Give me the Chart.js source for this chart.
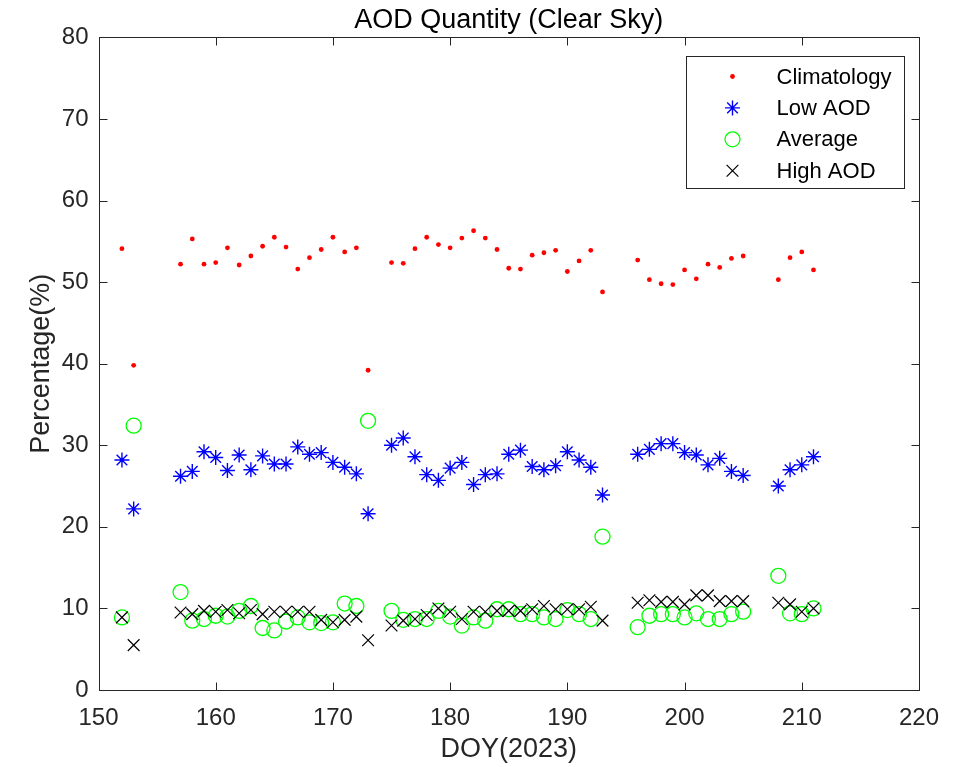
<!DOCTYPE html>
<html>
<head>
<meta charset="utf-8">
<script src="https://cdn.jsdelivr.net/npm/chart.js@4.4.1/dist/chart.umd.min.js"></script>
<style>
    html, body { margin: 0; padding: 0; background: #fff; }
</style>
</head>
<body>
<canvas id="aodChart" width="953" height="767"></canvas>
<script>
// Datos
const doy = [
    152, 153, 157, 158, 159, 160, 161, 162, 163, 164, 165, 166, 167, 168, 169,
    170, 171, 172, 173, 175, 176, 177, 178, 179, 180, 181, 182, 183, 184, 185,
    186, 187, 188, 189, 190, 191, 192, 193, 196, 197, 198, 199, 200, 201, 202,
    203, 204, 205, 208, 209, 210, 211,
];
const climatology = [
    54.1, 39.8, 52.2, 55.3, 52.2, 52.4, 54.2, 52.1, 53.2, 54.4, 55.5, 54.3, 51.6,
    53.0, 54.0, 55.5, 53.7, 54.2, 39.2,
    52.4, 52.3, 54.1, 55.5, 54.6, 54.2, 55.4, 56.3, 55.4, 54.0, 51.7, 51.6, 53.3,
    53.6, 53.9, 51.3, 52.6, 53.9, 48.8,
    52.7, 50.3, 49.8, 49.7, 51.5, 50.4, 52.2, 51.8, 52.9, 53.2,
    50.3, 53.0, 53.7, 51.5,
];
const lowAod = [
    28.2, 22.2, 26.2, 26.8, 29.2, 28.5, 26.9, 28.8, 27.0, 28.7, 27.7, 27.7, 29.8,
    28.9, 29.1, 27.9, 27.3, 26.5, 21.6,
    30.0, 30.9, 28.6, 26.4, 25.7, 27.2, 27.9, 25.2, 26.4, 26.5, 28.9, 29.4, 27.4,
    27.0, 27.5, 29.2, 28.2, 27.3, 23.9,
    28.9, 29.5, 30.2, 30.2, 29.1, 28.8, 27.6, 28.4, 26.8, 26.3,
    25.0, 27.0, 27.6, 28.6,
];
const average = [
    8.9, 32.4, 12.0, 8.5, 8.7, 9.1, 9.0, 9.7, 10.3, 7.6, 7.3, 8.4, 8.9,
    8.3, 8.2, 8.3, 10.6, 10.3, 33.0,
    9.7, 8.6, 8.7, 8.7, 9.7, 9.0, 7.9, 8.9, 8.5, 9.9, 9.9, 9.3, 9.3,
    8.9, 8.7, 9.8, 9.3, 8.7, 18.8,
    7.7, 9.1, 9.3, 9.3, 8.9, 9.4, 8.7, 8.7, 9.3, 9.6,
    14.0, 9.4, 9.3, 10.0,
];
const highAod = [
    8.9, 5.5, 9.5, 9.3, 9.7, 9.6, 9.8, 9.4, 9.8, 9.3, 9.6, 9.6, 9.6,
    9.6, 8.6, 8.3, 8.6, 9.0, 6.1,
    7.9, 8.5, 8.7, 9.2, 10.0, 9.6, 8.7, 9.6, 9.6, 9.7, 9.7, 9.7, 9.9,
    10.3, 9.9, 9.9, 9.9, 10.2, 8.5,
    10.7, 11.0, 10.8, 10.8, 10.5, 11.6, 11.6, 10.9, 10.9, 10.9,
    10.7, 10.5, 9.6, 10.0,
];
const xTicks = [150, 160, 170, 180, 190, 200, 210, 220];
const yTicks = [0, 10, 20, 30, 40, 50, 60, 70, 80];

const fontFamily = "'Liberation Sans', Arial, sans-serif";
const axisColor = "#262626";

const toPoints = (vals) => doy.map((d, i) => ({ x: d, y: vals[i] }));

// Caja de ejes estilo MATLAB con marcas hacia adentro
const framePlugin = {
    id: "frame",
    afterDatasetsDraw(chart) {
        const { ctx, chartArea: a, scales } = chart;
        const L = Math.round(a.left) + 0.5;
        const R = Math.round(a.right) + 0.5;
        const T = Math.round(a.top) + 0.5;
        const B = Math.round(a.bottom) + 0.5;
        const len = 8;
        ctx.save();
        ctx.strokeStyle = axisColor;
        ctx.lineWidth = 1;
        ctx.strokeRect(L, T, R - L, B - T);
        ctx.beginPath();
        scales.x.ticks.forEach((t) => {
            const px = Math.round(scales.x.getPixelForValue(t.value)) + 0.5;
            ctx.moveTo(px, B);
            ctx.lineTo(px, B - len);
            ctx.moveTo(px, T);
            ctx.lineTo(px, T + len);
        });
        scales.y.ticks.forEach((t) => {
            const py = Math.round(scales.y.getPixelForValue(t.value)) + 0.5;
            ctx.moveTo(L, py);
            ctx.lineTo(L + len, py);
            ctx.moveTo(R, py);
            ctx.lineTo(R - len, py);
        });
        ctx.stroke();
        ctx.restore();
    },
};

// Leyenda dentro del area del grafico
const boxLegend = {
    id: "boxLegend",
    afterDraw(chart) {
        const { ctx, chartArea: a } = chart;
        const w = 218, h = 132;
        const bx = Math.round(a.right - 15 - w) + 0.5;
        const by = Math.round(a.top + 19) + 0.5;
        ctx.save();
        ctx.fillStyle = "#fff";
        ctx.fillRect(bx, by, w, h);
        ctx.strokeStyle = axisColor;
        ctx.lineWidth = 1;
        ctx.strokeRect(bx, by, w, h);
        chart.data.datasets.forEach((ds, i) => {
            const cy = by + 20 + i * 31.4;
            ctx.fillStyle = ds.backgroundColor;
            ctx.strokeStyle = ds.borderColor;
            ctx.lineWidth = ds.borderWidth;
            Chart.helpers.drawPoint(ctx, {
                pointStyle: ds.pointStyle,
                radius: ds.pointRadius,
                rotation: 0,
                borderWidth: ds.borderWidth,
            }, bx + 46, cy);
            ctx.fillStyle = "#000";
            ctx.font = "22px " + fontFamily;
            ctx.textAlign = "left";
            ctx.textBaseline = "middle";
            ctx.fillText(ds.label, bx + 90, cy + 1);
        });
        ctx.restore();
    },
};

const chart = new Chart(document.getElementById("aodChart"), {
    type: "scatter",
    data: {
        datasets: [
            {
                label: "Climatology",
                data: toPoints(climatology),
                pointStyle: "circle",
                pointRadius: 2.4,
                backgroundColor: "#ff0000",
                borderColor: "#ff0000",
                borderWidth: 0,
                order: 4,
            },
            {
                label: "Low AOD",
                data: toPoints(lowAod),
                pointStyle: "star",
                pointRadius: 7.5,
                backgroundColor: "rgba(0,0,0,0)",
                borderColor: "#0000ff",
                borderWidth: 1.4,
                order: 3,
            },
            {
                label: "Average",
                data: toPoints(average),
                pointStyle: "circle",
                pointRadius: 7.5,
                backgroundColor: "rgba(0,0,0,0)",
                borderColor: "#00ff00",
                borderWidth: 1.3,
                order: 2,
            },
            {
                label: "High AOD",
                data: toPoints(highAod),
                pointStyle: "crossRot",
                pointRadius: 8.3,
                backgroundColor: "rgba(0,0,0,0)",
                borderColor: "#000000",
                borderWidth: 1.2,
                order: 1,
            },
        ],
    },
    options: {
        responsive: false,
        animation: false,
        layout: { padding: { top: 0, right: 30, bottom: 0, left: 0 } },
        plugins: {
            legend: { display: false },
            tooltip: { enabled: false },
            title: {
                display: true,
                text: "AOD Quantity (Clear Sky)",
                fullSize: false,
                color: "#000",
                font: { family: fontFamily, size: 27, weight: "normal" },
                padding: { top: 4, bottom: 1 },
            },
        },
        scales: {
            x: {
                type: "linear",
                min: 150,
                max: 220,
                afterBuildTicks: (s) => { s.ticks = xTicks.map((v) => ({ value: v })); },
                afterFit: (s) => { s.height = 77; },
                grid: { display: false, drawTicks: false },
                border: { display: false },
                ticks: {
                    color: axisColor,
                    padding: 14,
                    maxRotation: 0,
                    font: { family: fontFamily, size: 24 },
                },
                title: {
                    display: true,
                    text: "DOY(2023)",
                    color: axisColor,
                    font: { family: fontFamily, size: 27 },
                    padding: { top: 0, bottom: 1 },
                },
            },
            y: {
                type: "linear",
                min: 0,
                max: 80,
                afterBuildTicks: (s) => { s.ticks = yTicks.map((v) => ({ value: v })); },
                afterFit: (s) => { s.width = 98.5; },
                grid: { display: false, drawTicks: false },
                border: { display: false },
                ticks: {
                    color: axisColor,
                    padding: 10,
                    font: { family: fontFamily, size: 24 },
                },
                title: {
                    display: true,
                    text: "Percentage(%)",
                    color: axisColor,
                    font: { family: fontFamily, size: 27 },
                    padding: { top: 25, bottom: 0 },
                },
            },
        },
    },
    plugins: [framePlugin, boxLegend],
});
</script>
</body>
</html>
